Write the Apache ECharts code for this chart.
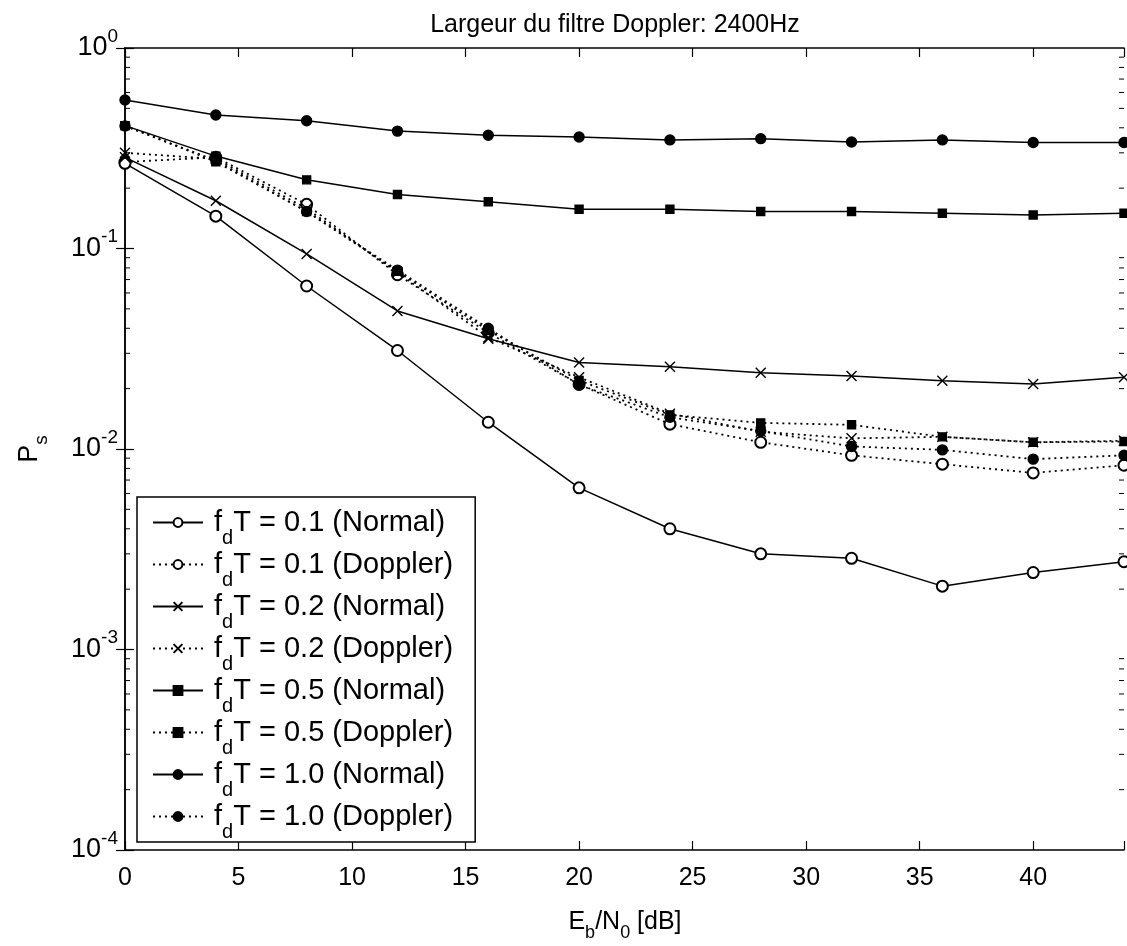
<!DOCTYPE html>
<html>
<head>
<meta charset="utf-8">
<title>Largeur du filtre Doppler: 2400Hz</title>
<script src="https://cdn.jsdelivr.net/npm/echarts@6/dist/echarts.min.js"></script>
<style>
  html, body { margin: 0; padding: 0; background: #fff; }
  #chart { width: 1127px; height: 946px; }
</style>
</head>
<body>
<div id="chart"></div>
<script>
// Eb/N0 [dB]
var ebno = [0, 4, 8, 12, 16, 20, 24, 28, 32, 36, 40, 44];

// Ps
var normal01  = [0.266, 0.145, 0.065, 0.031, 0.0136, 0.0064, 0.0040, 0.0030, 0.00285, 0.00207, 0.00242, 0.00274];
var doppler01 = [0.27, 0.285, 0.166, 0.074, 0.038, 0.021, 0.0133, 0.0108, 0.0093, 0.0084, 0.0076, 0.0083];
var normal02  = [0.285, 0.173, 0.094, 0.0488, 0.0355, 0.027, 0.0257, 0.024, 0.0231, 0.0219, 0.0211, 0.0228];
var doppler02 = [0.30, 0.28, 0.158, 0.076, 0.036, 0.0228, 0.0150, 0.0122, 0.0113, 0.0115, 0.0108, 0.0110];
var normal05  = [0.41, 0.289, 0.22, 0.186, 0.171, 0.157, 0.157, 0.153, 0.153, 0.150, 0.147, 0.150];
var doppler05 = [0.41, 0.271, 0.153, 0.077, 0.039, 0.022, 0.0148, 0.0135, 0.0132, 0.0115, 0.0108, 0.0109];
var normal10  = [0.55, 0.463, 0.434, 0.385, 0.367, 0.36, 0.348, 0.353, 0.34, 0.348, 0.338, 0.338];
var doppler10 = [0.408, 0.275, 0.153, 0.078, 0.040, 0.0209, 0.0144, 0.0123, 0.0103, 0.0099, 0.0089, 0.0093];

var seriesNames = [
    'f_dT = 0.1 (Normal)', 'f_dT = 0.1 (Doppler)',
    'f_dT = 0.2 (Normal)', 'f_dT = 0.2 (Doppler)',
    'f_dT = 0.5 (Normal)', 'f_dT = 0.5 (Doppler)',
    'f_dT = 1.0 (Normal)', 'f_dT = 1.0 (Doppler)'
];
var seriesValues = [normal01, doppler01, normal02, doppler02, normal05, doppler05, normal10, doppler10];

// axis ticks
var xTickLabels = [0, 5, 10, 15, 20, 25, 30, 35, 40];
var yMinorTicks = [
    2e-4, 3e-4, 4e-4, 5e-4, 6e-4, 7e-4, 8e-4, 9e-4,
    2e-3, 3e-3, 4e-3, 5e-3, 6e-3, 7e-3, 8e-3, 9e-3,
    2e-2, 3e-2, 4e-2, 5e-2, 6e-2, 7e-2, 8e-2, 9e-2,
    0.2, 0.3, 0.4, 0.5, 0.6, 0.7, 0.8, 0.9
];

var FONT = '"Liberation Sans", Arial, Helvetica, sans-serif';
var X_MARK = 'path://M0,0L10,10M10,0L0,10';

// marker per series (order follows seriesNames)
var symbols = ['emptyCircle', 'emptyCircle', X_MARK, X_MARK, 'rect', 'rect', 'circle', 'circle'];
var symbolSizes = [11, 11, 10, 10, 8, 8, 10, 10];

function pairs(vals) {
    return ebno.map(function(x, i) { return [x, vals[i]]; });
}

var series = seriesNames.map(function(name, i) {
    var dotted = name.indexOf('Doppler') >= 0;
    return {
        name: name,
        type: 'line',
        data: pairs(seriesValues[i]),
        symbol: symbols[i],
        symbolSize: symbolSizes[i],
        showAllSymbol: true,
        clip: false,
        z: dotted ? 3 : 4,
        lineStyle: {
            color: '#000',
            width: dotted ? 1.8 : 1.5,
            type: dotted ? [2, 4] : 'solid'
        },
        itemStyle: {
            color: '#000',
            borderColor: '#000',
            borderWidth: 1.4
        },
        emphasis: { disabled: true }
    };
});

// small log ticks on left and right edges
series.push({
    type: 'custom',
    silent: true,
    data: yMinorTicks.map(function(v) { return [0, v]; }),
    renderItem: function(params, api) {
        var y = api.coord([0, api.value(1)])[1];
        var cs = params.coordSys;
        return {
            type: 'group',
            children: [
                { type: 'line', shape: { x1: cs.x, y1: y, x2: cs.x + 5, y2: y }, style: { stroke: '#000', lineWidth: 1 } },
                { type: 'line', shape: { x1: cs.x + cs.width, y1: y, x2: cs.x + cs.width - 5, y2: y }, style: { stroke: '#000', lineWidth: 1 } }
            ]
        };
    }
});

function legendText(name) {
    return '{f|f}{d|d}{m|' + name.slice(3) + '}';
}

function yLabel(v) {
    var e = Math.round(Math.log(v) / Math.LN10);
    return '{b|10}{e|' + (e === 0 ? '0' : '-' + Math.abs(e)) + '}';
}

var axisLine = { show: true, lineStyle: { color: '#000', width: 1.5 } };
var tickIn = { show: true, inside: true, length: 9, lineStyle: { color: '#000', width: 1.2 } };

var option = {
    backgroundColor: '#fff',
    animation: false,
    title: {
        text: 'Largeur du filtre Doppler: 2400Hz',
        left: 610,
        top: 8,
        textAlign: 'center',
        textStyle: { fontFamily: FONT, fontSize: 25, fontWeight: 'normal', color: '#000' }
    },
    grid: { left: 125, right: 1, top: 48, bottom: 96 },
    legend: {
        data: seriesNames,
        orient: 'vertical',
        left: 137,
        top: 497,
        padding: [1, 22, 0, 15],
        itemGap: -8,
        itemWidth: 50,
        itemHeight: 11,
        backgroundColor: '#fff',
        borderColor: '#000',
        borderWidth: 1.5,
        borderRadius: 0,
        selectedMode: false,
        formatter: legendText,
        textStyle: {
            color: '#000',
            fontFamily: FONT,
            rich: {
                f: { fontFamily: FONT, fontSize: 29, lineHeight: 49, padding: [0, 0, 0, 6], color: '#000' },
                m: { fontFamily: FONT, fontSize: 29, lineHeight: 49, color: '#000' },
                d: { fontFamily: FONT, fontSize: 20, lineHeight: 20, padding: [30, 0, 0, 0], verticalAlign: 'top', color: '#000' }
            }
        }
    },
    xAxis: [{
        type: 'value',
        min: 0,
        max: 44,
        interval: 5,
        position: 'bottom',
        axisLine: axisLine,
        axisTick: tickIn,
        splitLine: { show: false },
        axisLabel: {
            color: '#000',
            fontFamily: FONT,
            fontSize: 25,
            margin: 16,
            formatter: function(v) { return xTickLabels.indexOf(v) >= 0 ? String(v) : ''; }
        }
    }, {
        type: 'value',
        min: 0,
        max: 44,
        interval: 5,
        position: 'top',
        axisLine: axisLine,
        axisTick: tickIn,
        splitLine: { show: false },
        axisLabel: { show: false }
    }],
    yAxis: [{
        type: 'log',
        logBase: 10,
        min: 1e-4,
        max: 1,
        position: 'left',
        axisLine: axisLine,
        axisTick: tickIn,
        splitLine: { show: false },
        axisLabel: {
            color: '#000',
            fontFamily: FONT,
            margin: 7,
            formatter: yLabel,
            rich: {
                b: { fontFamily: FONT, fontSize: 27, lineHeight: 42, color: '#000' },
                e: { fontFamily: FONT, fontSize: 19, lineHeight: 19, padding: [0, 0, 23, 0], color: '#000' }
            }
        }
    }, {
        type: 'log',
        logBase: 10,
        min: 1e-4,
        max: 1,
        position: 'right',
        axisLine: axisLine,
        axisTick: tickIn,
        splitLine: { show: false },
        axisLabel: { show: false }
    }],
    graphic: [{
        type: 'text',
        x: 625,
        y: 922,
        style: {
            text: '{m|E}{s|b}{m|/N}{s|0}{m| [dB]}',
            align: 'center',
            verticalAlign: 'middle',
            fill: '#000',
            rich: {
                m: { fontFamily: FONT, fontSize: 25, lineHeight: 39, fill: '#000' },
                s: { fontFamily: FONT, fontSize: 18, lineHeight: 18, padding: [22, 0, 0, 0], verticalAlign: 'top', fill: '#000' }
            }
        }
    }, {
        type: 'text',
        x: 30,
        y: 449,
        rotation: Math.PI / 2,
        style: {
            text: '{m|P}{s|s}',
            align: 'center',
            verticalAlign: 'middle',
            fill: '#000',
            rich: {
                m: { fontFamily: FONT, fontSize: 27, lineHeight: 39, fill: '#000' },
                s: { fontFamily: FONT, fontSize: 19, lineHeight: 19, padding: [22, 0, 0, 0], verticalAlign: 'top', fill: '#000' }
            }
        }
    }],
    series: series
};

var chart = echarts.init(document.getElementById('chart'));
chart.setOption(option);
</script>
</body>
</html>
